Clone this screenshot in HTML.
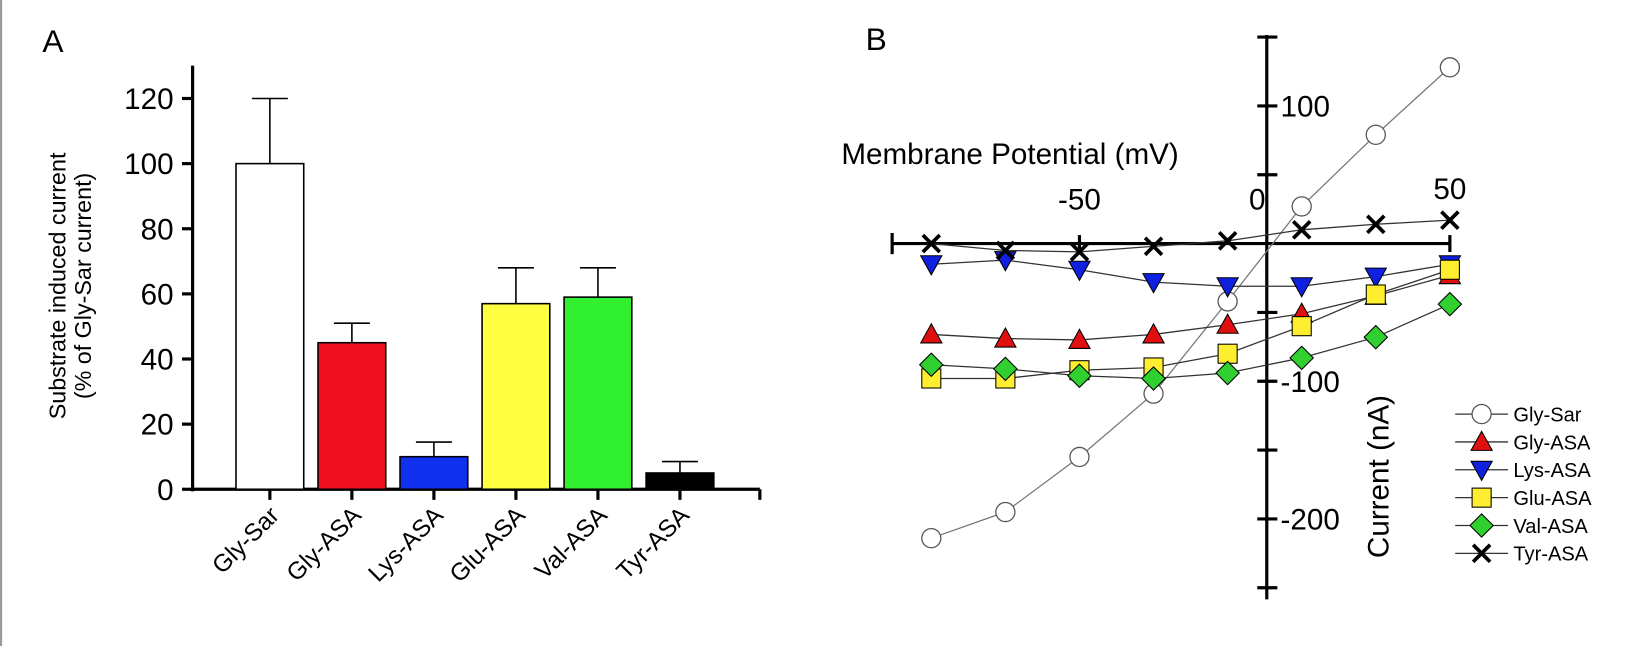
<!DOCTYPE html>
<html><head><meta charset="utf-8"><style>
html,body{margin:0;padding:0;background:#fff;width:1652px;height:646px;overflow:hidden}
svg{display:block;font-family:"Liberation Sans",Arial,sans-serif}
</style></head><body>
<svg id="c" width="1652" height="646" viewBox="0 0 1561 610" preserveAspectRatio="none">
<rect x="0" y="0" width="2" height="610" fill="#999"/>
<text x="40" y="49" font-size="30">A</text>
<text x="818" y="47" font-size="30">B</text>
<g id="ga"></g>
<g id="gb"></g>
</svg>
<script>
const barCats=["Gly-Sar","Gly-ASA","Lys-ASA","Glu-ASA","Val-ASA","Tyr-ASA"];
const barVals=[100,45,10,57,59,5];
const barErrs=[20,6,4.5,11,9,3.5];
const barColors=["#ffffff","#f01020","#1030f0","#ffff40","#30f030","#000000"];
const aTicks=[0,20,40,60,80,100,120];

const ivX=[-90,-70,-50,-30,-10,10,30,50];
const glySar=[-214,-195,-155,-109,-42,27,79,128];
const glyAsa=[-66,-69,-70,-66,-59,-51,-38,-23];
const lysAsa=[-15,-12,-19,-28,-31,-31,-24,-15];
const gluAsa=[-98,-98,-92,-90,-80,-60,-37,-19];
const valAsa=[-88,-91,-96,-98,-94,-83,-68,-44];
const tyrAsa=[0,-5,-6,-2,2,10,14,17];
const seriesNames=["Gly-Sar","Gly-ASA","Lys-ASA","Glu-ASA","Val-ASA","Tyr-ASA"];
const xTickLabels=[-50,0,50];
const yTickLabels=[100,-100,-200];

const NS="http://www.w3.org/2000/svg";
function mk(p,t,a,txt){const e=document.createElementNS(NS,t);for(const k in a)e.setAttribute(k,a[k]);if(txt!==undefined)e.textContent=txt;p.appendChild(e);return e;}

// Panel A
const ga=document.getElementById('ga');
const ay=v=>462-v*3.075;
const ax=i=>255+i*77.5;
mk(ga,'line',{x1:182,y1:62,x2:182,y2:464,stroke:'#000','stroke-width':3});
mk(ga,'line',{x1:180,y1:462,x2:718,y2:462,stroke:'#000','stroke-width':3});
aTicks.forEach(t=>{
  mk(ga,'line',{x1:172,y1:ay(t),x2:182,y2:ay(t),stroke:'#000','stroke-width':3});
  const e=mk(ga,'text',{x:164,y:ay(t)+10,'font-size':28,'text-anchor':'end'},t);
  
  
});
for(let i=0;i<=barCats.length;i++){const x=i<barCats.length?ax(i):718;mk(ga,'line',{x1:x,y1:462,x2:x,y2:472,stroke:'#000','stroke-width':3});}
barCats.forEach((c,i)=>{
  const x=ax(i),w=64;
  mk(ga,'line',{x1:x,y1:ay(barVals[i]),x2:x,y2:ay(barVals[i]+barErrs[i]),stroke:'#000','stroke-width':1.5});
  mk(ga,'line',{x1:x-17,y1:ay(barVals[i]+barErrs[i]),x2:x+17,y2:ay(barVals[i]+barErrs[i]),stroke:'#000','stroke-width':1.5});
  const r=mk(ga,'rect',{x:x-w/2,y:ay(barVals[i]),width:w,height:462-ay(barVals[i]),fill:barColors[i],stroke:'#000','stroke-width':1.5});
  
  
  const t=mk(ga,'text',{x:x+10,y:488,'font-size':23,'text-anchor':'end',transform:`rotate(-45 ${x+10} 488)`},c);
  
  
});
const yl=mk(ga,'text',{transform:'translate(62 270) rotate(-90)','font-size':22,'text-anchor':'middle'},'Substrate induced current');


const yl2=mk(ga,'text',{transform:'translate(86 270) rotate(-90)','font-size':22,'text-anchor':'middle'},'(% of Gly-Sar current)');



// Panel B
const gb=document.getElementById('gb');
const bx=v=>1195+v*3.5;
const by=v=>230-v*1.3;
mk(gb,'line',{x1:843,y1:230,x2:1370,y2:230,stroke:'#000','stroke-width':3});
mk(gb,'line',{x1:843,y1:220,x2:843,y2:240,stroke:'#000','stroke-width':3});
[-50,50].forEach(v=>mk(gb,'line',{x1:bx(v),y1:222,x2:bx(v),y2:238,stroke:'#000','stroke-width':3}));
mk(gb,'line',{x1:1197,y1:33,x2:1197,y2:566,stroke:'#000','stroke-width':3});
[150,100,50,-50,-100,-150,-200,-250].forEach(v=>mk(gb,'line',{x1:1188,y1:by(v),x2:1207,y2:by(v),stroke:'#000','stroke-width':3}));
xTickLabels.forEach(v=>{const e=mk(gb,'text',{x:bx(v)-(v===0?7:0),y:v===50?188:198,'font-size':28,'text-anchor':'middle'},v);
  });
yTickLabels.forEach(v=>{const e=mk(gb,'text',{x:1210,y:by(v)+10,'font-size':28},v);
  });
const xt=mk(gb,'text',{x:795,y:155,'font-size':28},'Membrane Potential (mV)');

const ytb=mk(gb,'text',{transform:'translate(1312 450) rotate(-90)','font-size':28,'text-anchor':'middle'},'Current (nA)');


function marker(p,type,x,y){
  const s={stroke:'#000','stroke-width':1};
  if(type===0) return mk(p,'circle',{cx:x,cy:y,r:9,fill:'#fff',stroke:'#555','stroke-width':1.2});
  if(type===1) return mk(p,'polygon',{points:`${x},${y-10} ${x-10},${y+8} ${x+10},${y+8}`,fill:'#e01010',...s});
  if(type===2) return mk(p,'polygon',{points:`${x},${y+10} ${x-10},${y-8} ${x+10},${y-8}`,fill:'#1020e0',...s});
  if(type===3) return mk(p,'rect',{x:x-9,y:y-9,width:18,height:18,fill:'#ffee30',...s});
  if(type===4) return mk(p,'polygon',{points:`${x},${y-11} ${x+11},${y} ${x},${y+11} ${x-11},${y}`,fill:'#30d030',...s});
  const g=mk(p,'g',{});
  mk(g,'line',{x1:x-8,y1:y-8,x2:x+8,y2:y+8,stroke:'#000','stroke-width':3.5});
  mk(g,'line',{x1:x-8,y1:y+8,x2:x+8,y2:y-8,stroke:'#000','stroke-width':3.5});
  return g;
}
const allSeries=[glySar,glyAsa,lysAsa,gluAsa,valAsa,tyrAsa];
allSeries.forEach((s,k)=>{
  const g=mk(gb,'g',{});
  
  
  mk(g,'polyline',{points:s.map((v,i)=>bx(ivX[i])+','+by(v)).join(' '),fill:'none',stroke:k===0?'#777':'#333','stroke-width':1.2});
  s.forEach((v,i)=>{const m=marker(g,k,bx(ivX[i]),by(v));
    });
});
seriesNames.forEach((n,k)=>{
  const y=391+k*26.3;
  const g=mk(gb,'g',{});
  
  
  mk(g,'line',{x1:1375,y1:y,x2:1425,y2:y,stroke:'#333','stroke-width':1.2});
  marker(g,k,1400,y);
  mk(g,'text',{x:1430,y:y+7,'font-size':19},n);
});
</script>
</body></html>
